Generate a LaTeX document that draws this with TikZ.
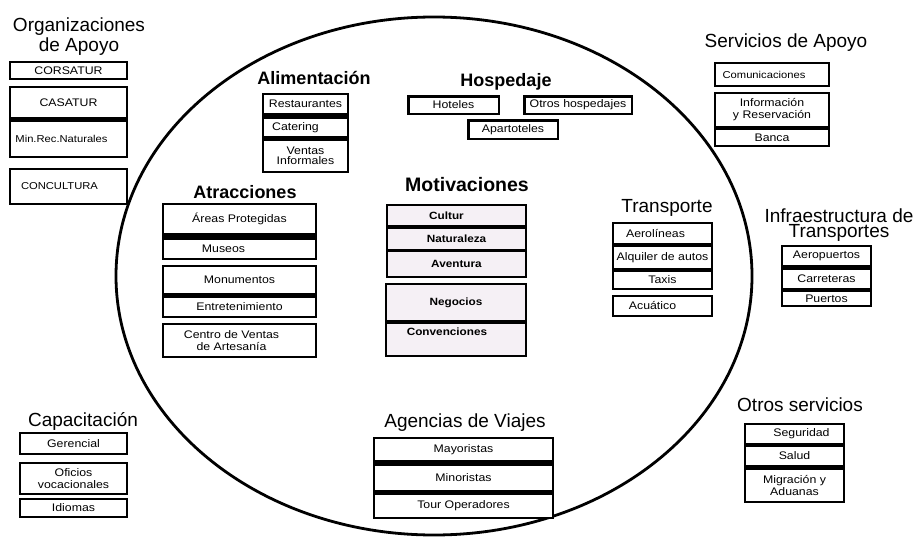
\documentclass[tikz,border=0pt]{standalone}
\usepackage{fontspec}
\setmainfont{Liberation Sans}
% slightly widened face for the labels inside the boxes
\newfontfamily\cellfont[FakeStretch=1.12]{Liberation Sans}
\usetikzlibrary{shapes.geometric}

% rectangle node given by its corners: style, name, x1, y1, x2, y2, text
\newcommand\mkbox[7]{%
  \node[#1, minimum width={(#5-#3)*1pt}, minimum height={(#6-#4)*1pt}]
    (#2) at ({(#3+#5)/2},{(#4+#6)/2}) {#7};}
% move a label sideways inside its cell
\newcommand\nudge[2]{\hspace*{#1}#2\hspace*{-#1}}

\definecolor{motivfill}{RGB}{245,240,245}

\tikzset{
  frame/.style={fill=black, inner sep=0pt},
  cell/.style={fill=white, inner sep=0pt, align=center,
               font=\cellfont\fontsize{11}{12}\selectfont},
  smallcell/.style={cell, font=\cellfont\fontsize{10}{11}\selectfont},
  motcell/.style={cell, fill=motivfill,
               font=\cellfont\bfseries\fontsize{10.5}{11}\selectfont},
  ttl/.style={inner sep=0pt, align=center, font=\fontsize{19}{20}\selectfont},
  ttlb/.style={ttl, font=\bfseries\fontsize{18}{20}\selectfont},
}

\begin{document}
\begin{tikzpicture}[x=1pt, y=-1pt]
\fill[white] (0,0) rectangle (916,538);
\useasboundingbox (0,0) rectangle (916,538);

% the sector
\node[draw, ellipse, line width=2.8pt, minimum width=636pt, minimum height=518pt,
      inner sep=0pt] (sector) at (434,276) {};

% Organizaciones de Apoyo
\node[ttl] (orgT) at (79,37) {Organizaciones\\de Apoyo};
\mkbox{frame}{orgF1}{9}{61}{128}{80}{}
\mkbox{cell}{corsatur}{11}{63}{126}{78}{CORSATUR}
\mkbox{frame}{orgF2}{9}{86}{128}{158}{}
\mkbox{cell}{casatur}{11}{88}{126}{117}{CASATUR}
\mkbox{smallcell}{minrec}{11}{122}{126}{156}{\nudge{-7pt}{Min.Rec.Naturales}}
\mkbox{frame}{orgF3}{9}{168}{128}{205}{}
\mkbox{smallcell}{concultura}{11}{170}{126}{203}{\nudge{-9pt}{CONCULTURA}}

% Alimentación
\node[ttlb] (alimT) at (314,78) {Alimentación};
\mkbox{frame}{alimF}{262}{93}{349}{173}{}
\mkbox{cell}{restaurantes}{264}{95}{347}{113}{Restaurantes}
\mkbox{cell}{catering}{264}{119}{347}{136}{\nudge{-10pt}{Catering}}
\mkbox{cell}{ventas}{264}{141}{347}{171}{Ventas\\[-1.5pt]Informales}

% Hospedaje
\node[ttlb] (hospT) at (506,82) {Hospedaje};
\mkbox{frame}{hotelesF}{407}{95}{500}{115}{}
\mkbox{cell}{hoteles}{409.5}{97.5}{497.5}{112.5}{Hoteles}
\mkbox{frame}{otrosF}{523}{95}{633}{115}{}
\mkbox{cell}{otros}{525.5}{97.5}{630.5}{112.5}{Otros hospedajes}
\mkbox{frame}{apartF}{467}{119}{559}{140}{}
\mkbox{cell}{apart}{469.5}{121.5}{556.5}{137.5}{Apartoteles}

% Servicios de Apoyo
\node[ttl] (servT) at (786,43) {Servicios de Apoyo};
\mkbox{frame}{comF}{714}{62}{830}{87}{}
\mkbox{smallcell}{comunic}{716}{64}{828}{85}{\nudge{-8pt}{Comunicaciones}}
\mkbox{frame}{infoF}{714}{92}{830}{147}{}
\mkbox{cell}{info}{716}{94}{828}{126}{Información\\y Reservación}
\mkbox{cell}{banca}{716}{130}{828}{145}{Banca}

% Atracciones
\node[ttlb] (atrT) at (245,192) {Atracciones};
\mkbox{frame}{atrF1}{162}{203}{317}{260}{}
\mkbox{cell}{areas}{164}{205}{315}{233}{Áreas Protegidas}
\mkbox{cell}{museos}{164}{240}{315}{258}{\nudge{-16pt}{Museos}}
\mkbox{frame}{atrF2}{162}{265}{317}{318}{}
\mkbox{cell}{monum}{164}{267}{315}{293}{Monumentos}
\mkbox{cell}{entret}{164}{298}{315}{316}{Entretenimiento}
\mkbox{frame}{atrF3}{162}{323}{317}{358}{}
\mkbox{cell}{centro}{164}{325}{315}{356}{\nudge{-8pt}{Centro de Ventas}\\\nudge{-8pt}{de Artesanía}}

% Motivaciones
\node[ttlb, font=\bfseries\fontsize{19.5}{20}\selectfont] (motT) at (467,185) {Motivaciones};
\mkbox{frame}{motF1}{386}{204}{527}{278}{}
\mkbox{motcell}{cultur}{388}{206}{525}{225}{\nudge{-10pt}{Cultur}}
\mkbox{motcell}{natur}{388}{229}{525}{249}{Naturaleza}
\mkbox{motcell}{aventura}{388}{252}{525}{276}{Aventura}
\mkbox{frame}{motF2}{385}{283}{527}{357}{}
\mkbox{motcell}{negocios}{387}{285}{525}{320}{Negocios}
\mkbox{motcell}{convenc}{387}{324}{525}{355}{\raisebox{4pt}[0pt][0pt]{\nudge{-9pt}{Convenciones}}}

% Transporte
\node[ttl] (trasT) at (667,208) {Transporte};
\mkbox{frame}{trasF1}{612}{222}{713}{290}{}
\mkbox{cell}{aerol}{614}{224}{711}{243}{\nudge{-7pt}{Aerolíneas}}
\mkbox{cell}{alquiler}{614}{247}{711}{268}{Alquiler de autos}
\mkbox{cell}{taxis}{614}{272}{711}{288}{Taxis}
\mkbox{frame}{trasF2}{612}{295}{713}{317}{}
\mkbox{cell}{acuatico}{614}{297}{711}{315}{\nudge{-10pt}{Acuático}}

% Infraestructura de Transportes
\node[ttl, font=\fontsize{19}{15}\selectfont] (infT) at (839,225) {Infraestructura de\\Transportes};
\mkbox{frame}{infF}{781}{245}{872}{307}{}
\mkbox{cell}{aeropuertos}{783}{247}{870}{265}{Aeropuertos}
\mkbox{cell}{carreteras}{783}{270}{870}{288}{Carreteras}
\mkbox{cell}{puertos}{783}{292}{870}{305}{Puertos}

% Capacitación
\node[ttl] (capT) at (83,421) {Capacitación};
\mkbox{frame}{capF1}{19}{432}{128}{455}{}
\mkbox{cell}{gerencial}{21}{434}{126}{453}{Gerencial}
\mkbox{frame}{capF2}{19}{462}{128}{495}{}
\mkbox{cell}{oficios}{21}{464}{126}{493}{Oficios\\vocacionales}
\mkbox{frame}{capF3}{19}{498}{128}{518}{}
\mkbox{cell}{idiomas}{21}{500}{126}{516}{Idiomas}

% Agencias de Viajes
\node[ttl] (ageT) at (465,423) {Agencias de Viajes};
\mkbox{frame}{ageF}{373}{437}{554}{519}{}
\mkbox{cell}{mayor}{375}{439}{552}{460}{Mayoristas}
\mkbox{cell}{minor}{375}{466}{552}{490}{Minoristas}
\mkbox{cell}{tour}{375}{495}{552}{517}{Tour Operadores}

% Otros servicios
\node[ttl] (otsT) at (800,405) {Otros servicios};
\mkbox{frame}{otsF}{744}{423}{845}{503}{}
\mkbox{cell}{seguridad}{746}{425}{843}{443}{\nudge{7pt}{Seguridad}}
\mkbox{cell}{salud}{746}{447}{843}{465}{Salud}
\mkbox{cell}{migracion}{746}{470}{843}{501}{Migración y\\Aduanas}
\end{tikzpicture}
\end{document}
